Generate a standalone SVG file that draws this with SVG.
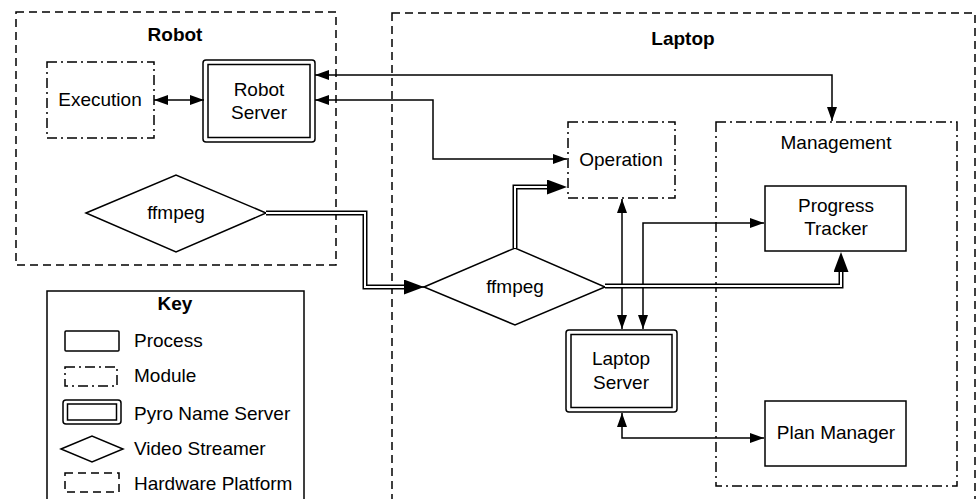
<svg xmlns="http://www.w3.org/2000/svg" width="976" height="499" viewBox="0 0 976 499">
<style>
text{font-family:"Liberation Sans",Arial,sans-serif;font-size:19px;fill:#000;text-anchor:middle}
.b{font-weight:bold}
.l{text-anchor:start}
.box{fill:none;stroke:#000;stroke-width:1.5}
.hw{fill:none;stroke:#000;stroke-width:1.5;stroke-dasharray:8 5}
.mod{fill:none;stroke:#000;stroke-width:1.5;stroke-dasharray:10 4 2 4}
.ln{fill:none;stroke:#000;stroke-width:1.5}
.dbo{fill:none;stroke:#000;stroke-width:5;stroke-linejoin:miter}
.dbi{fill:none;stroke:#fff;stroke-width:2;stroke-linejoin:miter}
</style>
<defs>
<marker id="a" markerUnits="userSpaceOnUse" viewBox="0 0 14 10" refX="14" refY="5" markerWidth="14" markerHeight="10" orient="auto-start-reverse"><path d="M0,0 L14,5 L0,10 Z" fill="#000"/></marker>
<marker id="A" markerUnits="userSpaceOnUse" viewBox="0 0 20 15" refX="20" refY="7.5" markerWidth="20" markerHeight="15" orient="auto"><path d="M0,0 L20,7.5 L0,15 Z" fill="#000"/></marker>
</defs>
<rect width="976" height="499" fill="#fff"/>
<g id="robot">
<rect class="hw" x="16" y="12" width="320" height="253"/>
<text class="b" x="175" y="41">Robot</text>
</g>
<g id="laptop">
<rect class="hw" x="392" y="13" width="583" height="500"/>
<text class="b" x="683" y="45">Laptop</text>
</g>
<g id="management">
<rect class="mod" x="716" y="122" width="241" height="364"/>
<text x="836" y="149">Management</text>
</g>
<g id="execution">
<rect class="mod" x="47" y="62" width="107" height="76"/>
<text x="100" y="106">Execution</text>
</g>
<g id="robot-server">
<rect class="box" x="203" y="60" width="112" height="82" rx="3"/>
<rect class="box" x="208" y="64.5" width="102" height="73"/>
<text x="259" y="96">Robot</text>
<text x="259" y="119">Server</text>
</g>
<g id="ffmpeg-robot">
<polygon class="box" points="86,213 176,175 266,213 176,252"/>
<text x="176" y="219">ffmpeg</text>
</g>
<g id="operation">
<rect class="mod" x="568" y="122" width="107" height="76"/>
<text x="621" y="166">Operation</text>
</g>
<g id="ffmpeg-laptop">
<polygon class="box" points="424,287 515,248 605,287 515,325"/>
<text x="515" y="293">ffmpeg</text>
</g>
<g id="laptop-server">
<rect class="box" x="566" y="330" width="111" height="82" rx="3"/>
<rect class="box" x="571" y="334.5" width="101" height="73"/>
<text x="621" y="365">Laptop</text>
<text x="621" y="389">Server</text>
</g>
<g id="progress-tracker">
<rect class="box" x="765" y="186" width="141" height="65"/>
<text x="836" y="212">Progress</text>
<text x="836" y="235">Tracker</text>
</g>
<g id="plan-manager">
<rect class="box" x="765" y="401" width="141" height="65"/>
<text x="836" y="439">Plan Manager</text>
</g>
<g id="key">
<rect class="box" x="47" y="291" width="257" height="220"/>
<text class="b" x="175" y="310">Key</text>
<rect class="box" x="65" y="331" width="54" height="20" rx="1"/>
<text class="l" x="134" y="347">Process</text>
<rect class="mod" x="65" y="367" width="52" height="19"/>
<text class="l" x="134" y="382">Module</text>
<rect class="box" x="63" y="400" width="58" height="24" rx="3"/>
<rect class="box" x="67.5" y="404" width="49" height="16"/>
<text class="l" x="134" y="420">Pyro Name Server</text>
<polygon class="box" points="61,449 92,436 123,449 92,462"/>
<text class="l" x="134" y="455">Video Streamer</text>
<rect class="hw" x="65" y="473" width="54" height="19"/>
<text class="l" x="134" y="490">Hardware Platform</text>
</g>
<g id="connectors">
<path class="ln" d="M154,100 H204" marker-start="url(#a)" marker-end="url(#a)"/>
<path class="ln" d="M315,75 H832 V121" marker-start="url(#a)" marker-end="url(#a)"/>
<path class="ln" d="M315,100 H433 V159 H567" marker-start="url(#a)" marker-end="url(#a)"/>
<path class="ln" d="M622,199 V329" marker-start="url(#a)" marker-end="url(#a)"/>
<path class="ln" d="M764,223 H643 V329" marker-start="url(#a)" marker-end="url(#a)"/>
<path class="ln" d="M622,413 V438 H764" marker-start="url(#a)" marker-end="url(#a)"/>
<path class="dbo" d="M266,213 H365 V287 H410"/>
<path class="dbi" d="M266,213 H365 V287 H410"/>
<path class="ln" d="M405,287 H424" stroke="none" marker-end="url(#A)"/>
<path class="dbo" d="M515,248 V187 H552"/>
<path class="dbi" d="M515,248 V187 H552"/>
<path d="M548,187 H567" stroke="none" fill="none" marker-end="url(#A)"/>
<path class="dbo" d="M605,286 H841 V268"/>
<path class="dbi" d="M605,286 H841 V268"/>
<path d="M841,272 V252" stroke="none" fill="none" marker-end="url(#A)"/>
</g>
</svg>
